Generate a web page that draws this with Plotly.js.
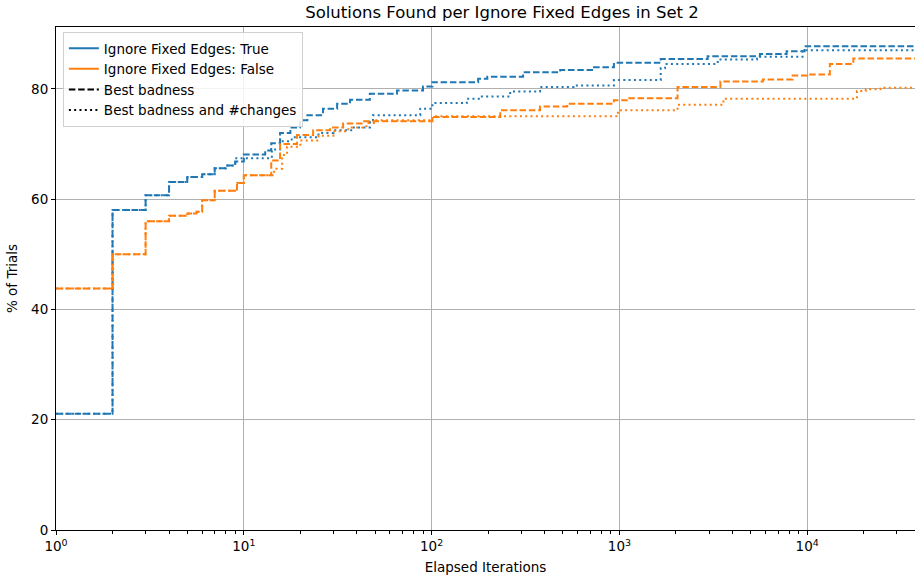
<!DOCTYPE html>
<html>
<head>
<meta charset="utf-8">
<script src="https://cdn.plot.ly/plotly-3.0.1.min.js"></script>
<style>html,body{margin:0;padding:0;background:#fff;}#chart{width:915px;height:579px;}</style>
</head>
<body>
<div id="chart"></div>
<script>
// Ignore Fixed Edges: True — Best badness
const trueBestX = [1, 2, 3, 4, 5, 6, 7, 8, 9, 10, 13, 14, 15.6, 17.7, 19.9, 21.8, 26.4, 31.4, 36.8, 46.9, 65.4, 90, 101, 177, 198, 307, 484, 733, 935, 1660, 2950, 5600, 7770, 9680, 37500];
const trueBestY = [21.1, 58, 60.7, 63.1, 64, 64.5, 65.6, 66.1, 66.8, 68.1, 68.8, 70.1, 72, 73, 74.3, 75.2, 76.4, 77.3, 78, 79.1, 79.7, 80.4, 81.2, 81.8, 82.2, 83, 83.4, 83.9, 84.7, 85.4, 85.9, 86.3, 86.8, 87.7, 87.7];
// Ignore Fixed Edges: True — Best badness and #changes
const trueBothX = [1, 2, 3, 4, 5, 6, 7, 8, 9, 14.1, 15.6, 18, 25, 30, 38, 47, 48.7, 87, 101, 154, 182, 262, 378, 570, 935, 1660, 1750, 3340, 5400, 9440, 37500];
const trueBothY = [21.1, 58, 60.7, 63.1, 64, 64.5, 65.6, 66.1, 67.4, 69, 70.5, 71.2, 72, 72.5, 73, 74, 75.2, 76.4, 77.4, 78.2, 78.6, 79.5, 80.3, 80.6, 81.6, 83.7, 84.5, 85.3, 85.8, 87.0, 87.0];
// Ignore Fixed Edges: False — Best badness
const falseBestX = [1, 2, 3, 4, 5, 5.6, 6, 7, 9.2, 10, 14, 15.6, 19.2, 23.4, 28.8, 33.8, 43, 101, 232, 378, 527, 935, 1110, 2040, 3450, 5810, 8370, 10000, 13200, 17600, 37500];
const falseBestY = [43.8, 50, 56, 57, 57.4, 57.7, 59.8, 61.5, 62.9, 64.3, 67, 70, 71.6, 72.5, 73, 73.7, 74.1, 74.9, 76.1, 76.8, 77.3, 77.9, 78.3, 80.3, 81.3, 81.7, 82.4, 82.6, 84.5, 85.5, 85.5];
// Ignore Fixed Edges: False — Best badness and #changes
const falseBothX = [1, 2, 3, 4, 5, 5.6, 6, 7, 9.2, 10, 14.5, 16, 17, 20, 25, 30, 36, 45, 50, 101, 982, 2040, 3580, 18400, 20500, 24500, 37500];
const falseBothY = [43.8, 50, 56, 57, 57.4, 57.7, 59.8, 61.5, 62.9, 64.3, 65.5, 68, 69.5, 70.6, 71.5, 72.3, 73, 73.8, 74.3, 75.0, 76.1, 77.1, 78.2, 79.6, 79.9, 80.2, 80.2];

const xTickVals = [1, 10, 100, 1000, 10000];
const xTickText = ['10<sup>0</sup>', '10<sup>1</sup>', '10<sup>2</sup>', '10<sup>3</sup>', '10<sup>4</sup>'];
const xMinorVals = [2,3,4,5,6,7,8,9,20,30,40,50,60,70,80,90,200,300,400,500,600,700,800,900,2000,3000,4000,5000,6000,7000,8000,9000,20000,30000];
const yTickVals = [0, 20, 40, 60, 80];

const BLUE = '#1f77b4', ORANGE = '#ff7f0e';
const DASH = '6.5px,2.8px', DOT = '2px,3.3px';

function stepTrace(x, y, color, dash) {
  return {x: x, y: y, type: 'scatter', mode: 'lines', line: {shape: 'hv', color: color, width: 2, dash: dash}, showlegend: false, hoverinfo: 'skip'};
}
function legendTrace(name, color, dash) {
  return {x: [null], y: [null], type: 'scatter', mode: 'lines', name: name, line: {color: color, width: 2, dash: dash}, showlegend: true};
}

const data = [
  stepTrace(trueBestX, trueBestY, BLUE, DASH),
  stepTrace(trueBothX, trueBothY, BLUE, DOT),
  stepTrace(falseBestX, falseBestY, ORANGE, DASH),
  stepTrace(falseBothX, falseBothY, ORANGE, DOT),
  legendTrace('Ignore Fixed Edges: True', BLUE, 'solid'),
  legendTrace('Ignore Fixed Edges: False', ORANGE, 'solid'),
  legendTrace('Best badness', '#000', DASH),
  legendTrace('Best badness and #changes', '#000', DOT)
];

const layout = {
  width: 915, height: 579,
  margin: {l: 56, r: 0, t: 27, b: 49},
  paper_bgcolor: '#fff', plot_bgcolor: '#fff',
  font: {family: 'DejaVu Sans, sans-serif', size: 13.5, color: '#000'},
  title: {text: 'Solutions Found per Ignore Fixed Edges in Set 2', font: {size: 16.5, color: '#000'}, x: 502/915, xanchor: 'center', xref: 'container', y: 1 - 12/579, yref: 'container', yanchor: 'middle'},
  xaxis: {
    type: 'log', range: [0, Math.log10(37500)],
    tickmode: 'array', tickvals: xTickVals, ticktext: xTickText,
    ticks: 'outside', ticklen: 4, tickwidth: 1, tickcolor: '#000',
    showgrid: true, gridcolor: '#b0b0b0', gridwidth: 1,
    showline: true, linecolor: '#000', linewidth: 1, mirror: true,
    zeroline: false,
    minor: {tickmode: 'array', tickvals: xMinorVals, ticks: 'outside', ticklen: 2.5, tickcolor: '#000', showgrid: false},
    title: {text: 'Elapsed Iterations', font: {size: 13.5}, standoff: 9},
    automargin: false
  },
  yaxis: {
    range: [0, 91.2],
    tickmode: 'array', tickvals: yTickVals,
    ticks: 'outside', ticklen: 4, tickwidth: 1, tickcolor: '#000',
    showgrid: true, gridcolor: '#b0b0b0', gridwidth: 1,
    showline: true, linecolor: '#000', linewidth: 1, mirror: true,
    zeroline: false,
    title: {text: '% of Trials', font: {size: 13.5}, standoff: 10},
    automargin: false
  },
  legend: {
    x: 0.008, y: 0.99, xanchor: 'left', yanchor: 'top',
    bgcolor: 'rgba(255,255,255,0.85)', bordercolor: '#d0d0d0', borderwidth: 1,
    font: {size: 13.5}, tracegroupgap: 0
  },
  showlegend: true
};

Plotly.newPlot('chart', data, layout, {displayModeBar: false, staticPlot: true});
</script>
</body>
</html>
